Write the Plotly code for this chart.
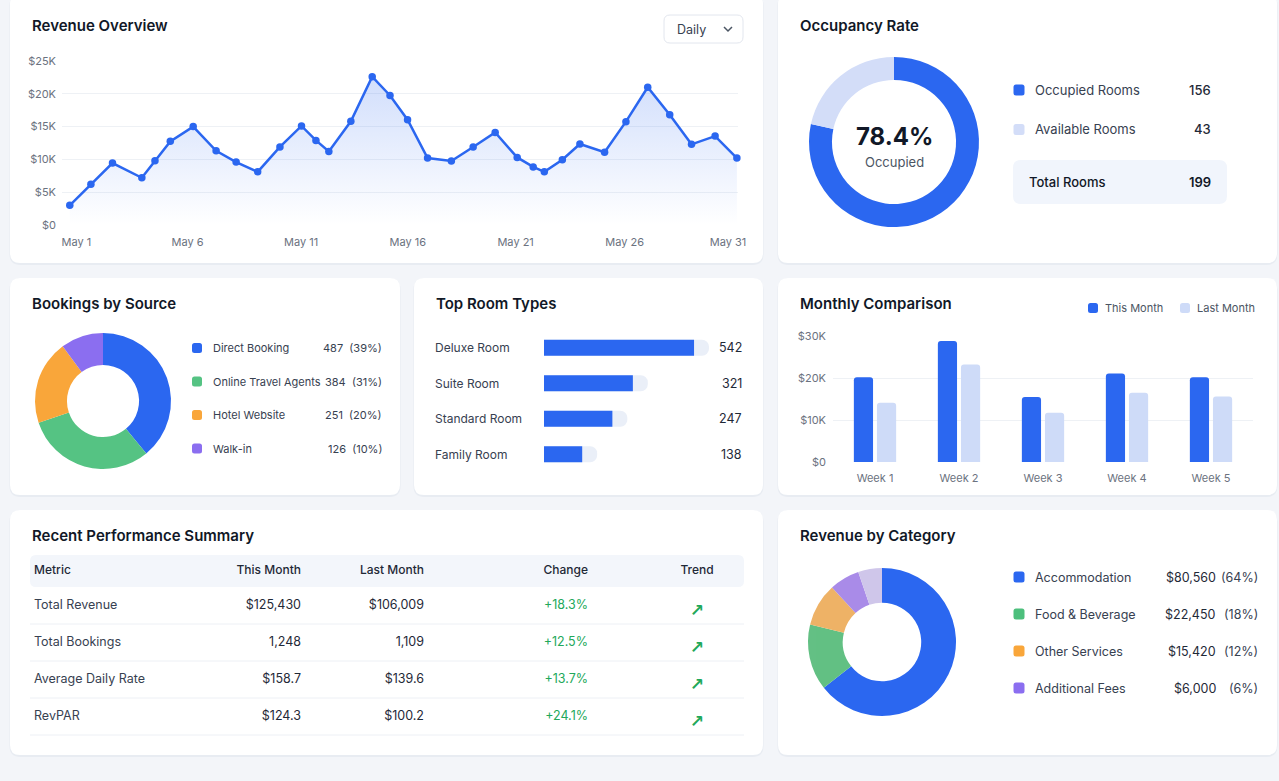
import plotly.graph_objects as go

W, H = 1279, 781
FONT = "Inter"
BLUE = "#2B67F0"
LIGHT_BLUE = "#D3DDF8"
TXT = "#374151"
DARK = "#111827"
GREY = "#6B7280"

# ---------------- data ----------------
rev_day = [1.0, 1.95, 2.92, 4.24, 4.83, 5.52, 6.55, 7.58, 8.48, 9.45, 10.45, 11.42,
           12.07, 12.65, 13.64, 14.6, 15.4, 16.19, 17.09, 18.16, 19.14, 20.13, 21.12,
           21.84, 22.34, 23.15, 23.94, 25.05, 26.01, 26.99, 27.98, 28.96, 30.02, 31.0]
rev_values = [3000, 6200, 9450, 7200, 9800, 12750, 15000, 11300, 9600, 8100, 11900, 15100,
              12900, 11200, 15800, 22600, 19750, 16050, 10200, 9750, 11900, 14100, 10300,
              8850, 8100, 9950, 12350, 11100, 15750, 21000, 16800, 12300, 13550, 10200]
rev_tick_days = [1.3, 6.3, 11.4, 16.2, 21.05, 25.95, 30.6]
rev_tick_labels = ["May 1", "May 6", "May 11", "May 16", "May 21", "May 26", "May 31"]
rev_y_ticks = [0, 5000, 10000, 15000, 20000, 25000]
rev_y_labels = ["$0", "$5K", "$10K", "$15K", "$20K", "$25K"]

occ_labels = ["Occupied Rooms", "Available Rooms"]
occ_values = [156, 43]
occ_total = 199
occ_rate = "78.4%"

src_labels = ["Direct Booking", "Online Travel Agents", "Hotel Website", "Walk-in"]
src_values = [487, 384, 251, 126]
src_pct = [39, 31, 20, 10]

room_labels = ["Deluxe Room", "Suite Room", "Standard Room", "Family Room"]
room_values = [542, 321, 247, 138]

weeks = ["Week 1", "Week 2", "Week 3", "Week 4", "Week 5"]
this_month = [20200, 28800, 15500, 21100, 20200]
last_month = [14100, 23200, 11700, 16500, 15600]
mc_y_ticks = [0, 10000, 20000, 30000]
mc_y_labels = ["$0", "$10K", "$20K", "$30K"]

tbl_header = ["Metric", "This Month", "Last Month", "Change", "Trend"]
tbl_metric = ["Total Revenue", "Total Bookings", "Average Daily Rate", "RevPAR"]
tbl_this = ["$125,430", "1,248", "$158.7", "$124.3"]
tbl_last = ["$106,009", "1,109", "$139.6", "$100.2"]
tbl_change = ["+18.3%", "+12.5%", "+13.7%", "+24.1%"]
tbl_trend = ["<b>↗</b>", "<b>↗</b>", "<b>↗</b>", "<b>↗</b>"]

cat_labels = ["Accommodation", "Food & Beverage", "Other Services", "Additional Fees"]
cat_amounts = ["$80,560", "$22,450", "$15,420", "$6,000"]
cat_pct = [64, 18, 12, 6]
cat_donut_labels = ["Accommodation", "Food & Beverage", "Other Services", "Additional Fees", "Unlisted"]
cat_donut_shares = [64.4, 14.4, 9.4, 6.6, 5.2]

# ---------------- helpers ----------------
def X(p):
    return p / W


def Y(p):
    return 1 - p / H


def rr_path(x0, y0, x1, y1, r):
    return (f"M{X(x0 + r)},{Y(y0)} L{X(x1 - r)},{Y(y0)} Q{X(x1)},{Y(y0)} {X(x1)},{Y(y0 + r)} "
            f"L{X(x1)},{Y(y1 - r)} Q{X(x1)},{Y(y1)} {X(x1 - r)},{Y(y1)} "
            f"L{X(x0 + r)},{Y(y1)} Q{X(x0)},{Y(y1)} {X(x0)},{Y(y1 - r)} "
            f"L{X(x0)},{Y(y0 + r)} Q{X(x0)},{Y(y0)} {X(x0 + r)},{Y(y0)} Z")


shapes = []
annotations = []


def rrect(x0, y0, x1, y1, r, fill, line=None, layer="below", lw=1):
    shapes.append(dict(type="path", path=rr_path(x0, y0, x1, y1, r), xref="paper", yref="paper",
                       fillcolor=fill, line=dict(color=line or "rgba(0,0,0,0)", width=lw if line else 0),
                       layer=layer))


def text(x, y, s, size=13, color=TXT, anchor="left", weight=400):
    annotations.append(dict(x=X(x), y=Y(y), xref="paper", yref="paper", text=s, showarrow=False,
                            xanchor=anchor, yanchor="middle",
                            font=dict(family=FONT, size=size, color=color, weight=weight)))


def swatch(cx, cy, color, s=10.5):
    rrect(cx - s / 2, cy - s / 2, cx + s / 2, cy + s / 2, 2.5, color, layer="above")


# ---------------- cards ----------------
cards = [(10, -6, 763, 263), (778, -6, 1277, 263),
         (10, 278, 400, 495), (414, 278, 763, 495), (778, 278, 1277, 495),
         (10, 510, 763, 755), (778, 510, 1277, 755)]
for (a, b, c, d) in cards:
    rrect(a - 0.5, b + 0.5, c + 0.5, d + 2, 11, "#E8ECF2")
    rrect(a, b, c, d, 10, "#FFFFFF")

# titles
for (tx, ty, t) in [(30, 25, "Revenue Overview"), (798, 25, "Occupancy Rate"),
                    (30, 303, "Bookings by Source"), (434, 303, "Top Room Types"),
                    (798, 303, "Monthly Comparison"), (30, 535, "Recent Performance Summary"),
                    (798, 535, "Revenue by Category")]:
    text(tx, ty, t, size=15, color=DARK, weight=600)

# Daily dropdown
rrect(664, 15, 743, 43, 6, "#FFFFFF", line="#E2E6EE", layer="above")
text(675, 29, "Daily", size=12.5, color=TXT)
shapes.append(dict(type="path", xref="paper", yref="paper",
                   path=f"M{X(724)},{Y(27)} L{X(728)},{Y(31)} L{X(732)},{Y(27)}",
                   line=dict(color="#4B5563", width=1.5)))

fig = go.Figure()

# ---------------- Revenue overview line ----------------
fig.add_trace(go.Scatter(
    x=rev_day, y=rev_values, mode="lines+markers", xaxis="x", yaxis="y",
    line=dict(color=BLUE, width=2.5), marker=dict(color=BLUE, size=7.5),
    fill="tozeroy",
    fillgradient=dict(type="vertical", start=0, stop=23000,
                      colorscale=[[0, "rgba(43,103,240,0.0)"], [1, "rgba(43,103,240,0.22)"]]),
    cliponaxis=False, showlegend=False, name="Revenue"))

# ---------------- Occupancy donut ----------------
fig.add_trace(go.Pie(
    labels=occ_labels, values=occ_values, hole=0.73, sort=False, direction="clockwise", rotation=0,
    marker=dict(colors=[BLUE, LIGHT_BLUE], line=dict(width=0)), textinfo="none",
    domain=dict(x=[X(809), X(979)], y=[Y(227), Y(57)]), showlegend=False))
text(894, 136, occ_rate, size=24, color=DARK, anchor="center", weight=700)
text(894, 162, "Occupied", size=13, color="#4B5563", anchor="center")
for i, (lab, v, col) in enumerate(zip(occ_labels, occ_values, [BLUE, LIGHT_BLUE])):
    yy = 90 + i * 39.5
    swatch(1019, yy, col, 11)
    text(1033, yy, lab, size=13, color=TXT)
    text(1213, yy, str(v), size=13, color="#1F2937", anchor="right", weight=500)
rrect(1013, 160, 1227, 204, 8, "#F1F5FC", layer="above")
text(1027, 182, "Total Rooms", size=13, color=DARK, weight=500)
text(1213, 182, str(occ_total), size=13, color=DARK, anchor="right", weight=600)

# ---------------- Bookings by source donut ----------------
src_colors = [BLUE, "#55C383", "#F9A63A", "#8B6EF0"]
fig.add_trace(go.Pie(
    labels=src_labels, values=src_values, hole=0.53, sort=False, direction="clockwise", rotation=0,
    marker=dict(colors=src_colors, line=dict(width=0)), textinfo="none",
    domain=dict(x=[X(35), X(171)], y=[Y(469), Y(333)]), showlegend=False))
for i, (lab, v, p, col) in enumerate(zip(src_labels, src_values, src_pct, src_colors)):
    yy = 348 + i * 33.5
    swatch(197, yy, col, 10)
    text(211, yy, lab, size=11, color=TXT)
    text(384, yy, f"{v}  ({p}%)", size=11, color=TXT, anchor="right")

# ---------------- Top room types bars ----------------
room_pos = list(range(len(room_labels)))
track = [v + 54 for v in room_values]
fig.add_trace(go.Bar(
    x=track, y=room_pos, orientation="h", xaxis="x2", yaxis="y2", width=0.45, offset=-0.225,
    marker=dict(color="#EAEFF8", cornerradius=8, line=dict(width=0)), showlegend=False, hoverinfo="skip"))
fig.add_trace(go.Bar(
    x=room_values, y=room_pos, orientation="h", xaxis="x2", yaxis="y2", width=0.45, offset=-0.225,
    marker=dict(color=BLUE, cornerradius=8, line=dict(width=0)), showlegend=False, name="Rooms"))
for i, (lab, v) in enumerate(zip(room_labels, room_values)):
    yy = 347.75 + i * 35.5
    text(433, yy, lab, size=12, color=TXT)
    text(744, yy, str(v), size=12.5, color="#1F2937", anchor="right")

# ---------------- Monthly comparison ----------------
fig.add_trace(go.Bar(x=weeks, y=this_month, xaxis="x3", yaxis="y3", name="This Month",
                     marker=dict(color=BLUE, cornerradius=3, line=dict(width=0)), showlegend=False))
fig.add_trace(go.Bar(x=weeks, y=last_month, xaxis="x3", yaxis="y3", name="Last Month",
                     marker=dict(color="#CEDBF8", cornerradius=3, line=dict(width=0)), showlegend=False))
swatch(1093, 308, BLUE, 10)
text(1103, 308, "This Month", size=11, color="#4B5563")
swatch(1185, 308, "#CEDBF8", 10)
text(1195, 308, "Last Month", size=11, color="#4B5563")

# ---------------- Performance table ----------------
rrect(30, 555, 744, 587, 6, "#F3F6FB")
for yy in [624, 661, 698, 735]:
    shapes.append(dict(type="line", xref="paper", yref="paper", x0=X(30), x1=X(744), y0=Y(yy), y1=Y(yy),
                       line=dict(color="#EDF0F5", width=1), layer="below"))
GREEN = "#22A85A"
fig.add_trace(go.Table(
    domain=dict(x=[X(26), X(798)], y=[Y(740), Y(557)]),
    columnwidth=[144, 139, 123, 164, 202],
    header=dict(values=tbl_header, align=["left", "right", "right", "right", "center"], height=35,
                fill=dict(color="rgba(0,0,0,0)"), line=dict(color="rgba(0,0,0,0)", width=1),
                font=dict(family=FONT, size=12, color="#1F2937", weight=500)),
    cells=dict(values=[tbl_metric, tbl_this, tbl_last, tbl_change, tbl_trend],
               align=["left", "right", "right", "right", "center"], height=37,
               fill=dict(color="rgba(0,0,0,0)"), line=dict(color="rgba(0,0,0,0)", width=1),
               font=dict(family=[FONT, FONT, FONT, FONT, "DejaVu Sans"], size=[12.5, 12.5, 12.5, 12.5, 17],
                         color=[TXT, "#1F2937", "#1F2937", GREEN, GREEN]))))

# ---------------- Revenue by category donut ----------------
cat_colors = [BLUE, "#62C083", "#EEB266", "#A98BE8", "#CFC6EA"]
fig.add_trace(go.Pie(
    labels=cat_donut_labels, values=cat_donut_shares, hole=0.53, sort=False, direction="clockwise",
    rotation=0, marker=dict(colors=cat_colors, line=dict(width=0)), textinfo="none",
    domain=dict(x=[X(808), X(956)], y=[Y(716), Y(568)]), showlegend=False))
leg_colors = [BLUE, "#4CBF7C", "#F9A63A", "#8B6EF0"]
for i, (lab, amt, p, col) in enumerate(zip(cat_labels, cat_amounts, cat_pct, leg_colors)):
    yy = 577 + i * 37
    swatch(1019, yy, col, 11)
    text(1033, yy, lab, size=12.5, color=TXT)
    text(1218, yy, amt, size=12.5, color="#1F2937", anchor="right")
    text(1260, yy, f"({p}%)", size=12.5, color=TXT, anchor="right")

# ---------------- layout ----------------
axis_font = dict(family=FONT, size=11, color=GREY)
fig.update_layout(
    width=W, height=H, autosize=False,
    margin=dict(l=0, r=0, t=0, b=0, autoexpand=False),
    paper_bgcolor="#F3F5F9", plot_bgcolor="rgba(0,0,0,0)",
    font=dict(family=FONT),
    barmode="group", bargap=0.45, bargroupgap=0.17,
    xaxis=dict(domain=[X(62), X(738)], range=[0.65, 31.05], tickvals=rev_tick_days,
               ticktext=rev_tick_labels, showgrid=False, zeroline=False, showline=False,
               ticks="", tickfont=axis_font, ticklabelstandoff=9, fixedrange=True, anchor="y",
               automargin=False),
    yaxis=dict(domain=[Y(225), Y(61)], range=[0, 25000], tickvals=rev_y_ticks, ticktext=rev_y_labels,
               showgrid=True, gridcolor="#EEF1F5", gridwidth=1, zeroline=False, showline=False,
               ticks="", tickfont=axis_font, ticklabelstandoff=5, fixedrange=True, anchor="x",
               automargin=False),
    xaxis2=dict(domain=[X(544), X(709)], range=[0, 596], visible=False, fixedrange=True, anchor="y2",
                automargin=False),
    yaxis2=dict(domain=[Y(472), Y(330)], range=[3.5, -0.5], visible=False, fixedrange=True, anchor="x2",
                automargin=False),
    xaxis3=dict(domain=[X(833), X(1253)], showgrid=False, zeroline=False, showline=False, ticks="",
                tickfont=axis_font, ticklabelstandoff=8, fixedrange=True, anchor="y3", automargin=False),
    yaxis3=dict(domain=[Y(462), Y(336)], range=[0, 30000], tickvals=mc_y_ticks, ticktext=mc_y_labels,
                showgrid=True, gridcolor="#EEF1F5", zeroline=False, showline=False, ticks="",
                tickfont=axis_font, ticklabelstandoff=6, fixedrange=True, anchor="x3", automargin=False),
    shapes=shapes, annotations=annotations,
)

fig.write_html("out.html", config={"displayModeBar": False})
